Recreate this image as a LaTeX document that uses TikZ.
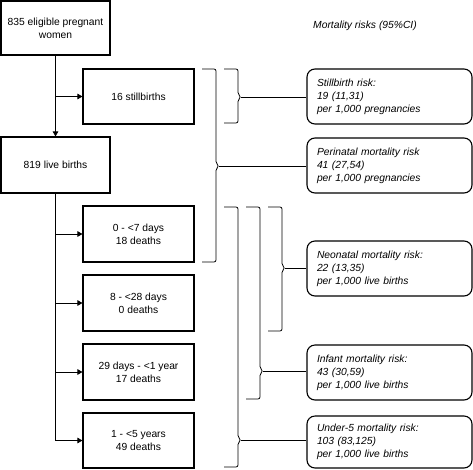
\documentclass[tikz,border=0pt]{standalone}
\usepackage{fontspec}
\setmainfont{Liberation Sans}
\usetikzlibrary{arrows.meta}
\tikzset{
  lbox/.style={draw=black, line width=1.1pt, rectangle, minimum width=111pt, minimum height=55pt, align=center, inner sep=2pt, font=\fontsize{10.3}{13}\selectfont},
  rbox/.style={draw=black, line width=1.1pt, rectangle, rounded corners=8pt, minimum width=165pt, minimum height=55pt, text width=145pt, align=left, inner xsep=10pt, font=\fontsize{10.3}{13}\selectfont\itshape},
  flow/.style={draw=black, line width=0.9pt, -{Triangle[length=5pt,width=5.5pt]}},
  plainline/.style={draw=black, line width=0.8pt},
  brk/.style={draw=black, line width=0.8pt, rounded corners=2pt}
}
\newcommand\mybrk[6]{%
  \draw[brk] (#1,#3) -- (#2,#3) -- (#2,#5-2.5) -- (#2+3,#5) -- (#2,#5+2.5) -- (#2,#4) -- (#1,#4);
  \coordinate (#6) at (#2+3,#5);
}
\begin{document}
\begin{tikzpicture}[x=1pt,y=-1pt]
\useasboundingbox (0,0) rectangle (473,469);
% left boxes
\node[lbox, minimum width=109pt, minimum height=54pt] (top) at (55.5,28) {835 eligible pregnant\\women};
\node[lbox] (still) at (138.5,96.5) {16 stillbirths};
\node[lbox, minimum width=109pt, minimum height=56pt] (live) at (55.5,165) {819 live births};
\node[lbox, minimum height=56pt] (d7) at (138.5,234) {0 - <7 days\\18 deaths};
\node[lbox, minimum height=56pt] (d28) at (138.5,303) {8 - <28 days\\0 deaths};
\node[lbox, minimum height=56pt] (y1) at (138.5,372) {29 days - <1 year\\17 deaths};
\node[lbox, minimum height=55pt] (y5) at (138.5,440.5) {1 - <5 years\\49 deaths};
% right boxes
\node[font=\fontsize{10.3}{13}\selectfont\itshape, anchor=west, inner sep=0pt] (title) at (313,26) {Mortality risks (95\%CI)};
\node[rbox] (srisk) at (389.5,96.5) {Stillbirth risk:\\19 (11,31)\\per 1,000 pregnancies};
\node[rbox] (prisk) at (389.5,165.5) {Perinatal mortality risk\\41 (27,54)\\per 1,000 pregnancies};
\node[rbox] (nrisk) at (389.5,268.5) {Neonatal mortality risk:\\22 (13,35)\\per 1,000 live births};
\node[rbox] (irisk) at (389.5,372.5) {Infant mortality risk:\\43 (30,59)\\per 1,000 live births};
\node[rbox, minimum height=52pt] (urisk) at (389.5,442) {Under-5 mortality risk:\\103 (83,125)\\per 1,000 live births};
% flow connectors
\draw[flow] (top.south) -- (live.north);
\draw[flow] (top.south |- still.west) -- (still.west);
\draw[plainline] (live.south) -- (live.south |- y5.west);
\draw[flow] (live.south |- d7.west) -- (d7.west);
\draw[flow] (live.south |- d28.west) -- (d28.west);
\draw[flow] (live.south |- y1.west) -- (y1.west);
\draw[flow] (live.south |- y5.west) -- (y5.west);
% brackets
\mybrk{224}{238}{69}{123}{97}{tS}
\mybrk{202}{216}{69}{262}{166}{tP}
\mybrk{224}{238}{207}{467}{440}{tU}
\mybrk{246}{260}{207}{399}{371}{tI}
\mybrk{268}{282}{207}{331}{268}{tN}
\draw[plainline] (tS) -- (tS -| srisk.west);
\draw[plainline] (tP) -- (tP -| prisk.west);
\draw[plainline] (tN) -- (tN -| nrisk.west);
\draw[plainline] (tI) -- (tI -| irisk.west);
\draw[plainline] (tU) -- (tU -| urisk.west);
\end{tikzpicture}
\end{document}
